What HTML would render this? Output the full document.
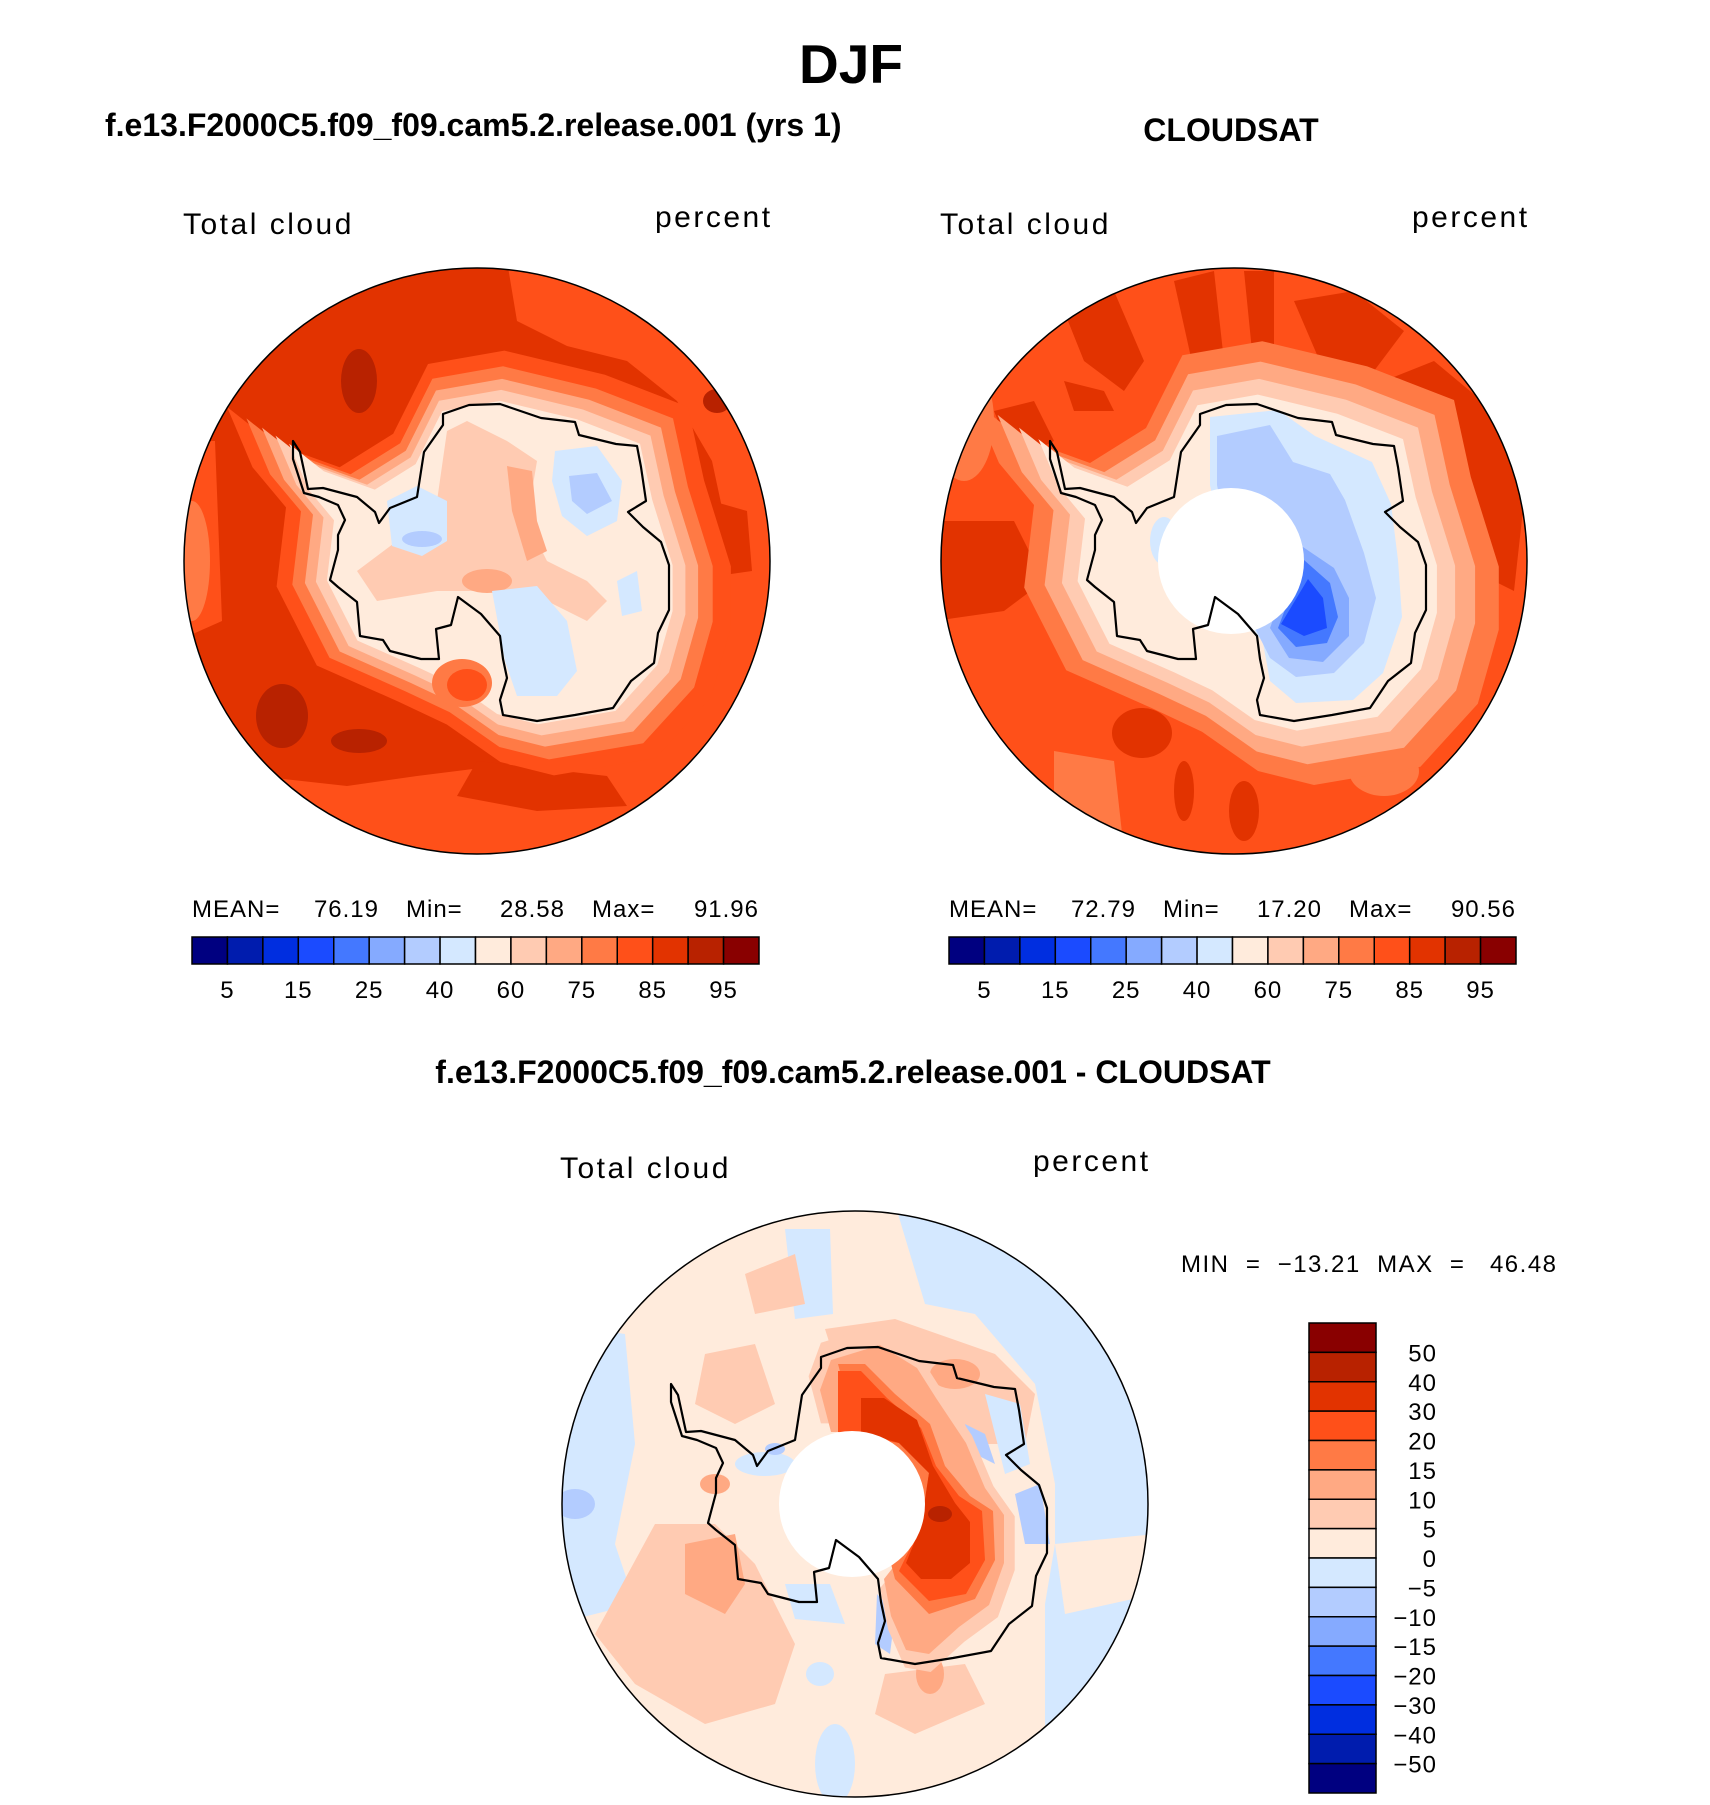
<!DOCTYPE html>
<html><head><meta charset="utf-8">
<style>
html,body{margin:0;padding:0;background:#fff;}
svg{display:block;}
text{font-family:"Liberation Sans",sans-serif;fill:#000;}
.t{font-weight:bold;}
.lab{font-size:30px;letter-spacing:2.5px;}
.sm{font-size:24px;letter-spacing:1px;}
</style></head>
<body>
<svg id="fig" width="1710" height="1805" viewBox="0 0 1710 1805" xmlns="http://www.w3.org/2000/svg">
<text class="t" x="851" y="83" font-size="55" text-anchor="middle">DJF</text>
<text class="t" x="105" y="136" font-size="32">f.e13.F2000C5.f09_f09.cam5.2.release.001 (yrs 1)</text>
<text class="t" x="1231" y="141" font-size="32" text-anchor="middle">CLOUDSAT</text>
<text class="t" x="853" y="1083" font-size="32" text-anchor="middle">f.e13.F2000C5.f09_f09.cam5.2.release.001 - CLOUDSAT</text>

<text class="lab" x="183" y="234">Total cloud</text>
<text class="lab" x="655" y="227">percent</text>
<text class="lab" x="940" y="234">Total cloud</text>
<text class="lab" x="1412" y="227">percent</text>
<text class="lab" x="560" y="1178">Total cloud</text>
<text class="lab" x="1033" y="1171">percent</text>

<g id="maps"></g>
<g id="bars"></g>
</svg>
<script>
// ---------- data ----------
const absLevels = [5,10,15,20,25,30,40,50,60,70,75,80,85,90,95];
const absTickLabels = ["5","15","25","40","60","75","85","95"];
const diffLevels = [-50,-40,-30,-20,-15,-10,-5,0,5,10,15,20,30,40,50];
const diffTickLabels = ["50","40","30","20","15","10","5","0","\u22125","\u221210","\u221215","\u221220","\u221230","\u221240","\u221250"];
const colors = ["#000080","#001cae","#002ee0","#1b4bff","#4478ff","#85aaff","#b3ccff","#d4e8ff","#ffebdc","#ffcbb2","#ffa983","#ff7a45","#ff5019","#e23300","#b82200","#890000"];
const statNames = ["MEAN=","Min=","Max="];
const modelStats = [76.19, 28.58, 91.96];
const obsStats = [72.79, 17.20, 90.56];
const diffStats = [-13.21, 46.48];

const NS="http://www.w3.org/2000/svg";
const svg=document.getElementById('fig');
function mk(tag,attrs,parent){const e=document.createElementNS(NS,tag);for(const k in attrs)e.setAttribute(k,attrs[k]);(parent||svg).appendChild(e);return e;}

// ---------- colorbars ----------
const bars=document.getElementById('bars');
function hBar(x0,x1,y0,y1,stats,prefix){
  const n=colors.length,w=(x1-x0)/n;
  for(let i=0;i<n;i++){
    const r=mk('rect',{x:x0+i*w,y:y0,width:w,height:y1-y0,fill:colors[i],stroke:'#000','stroke-width':1.5},bars);
    
    
  }
  absTickLabels.forEach((lab)=>{
    const idx=absLevels.indexOf(+lab);
    const t=mk('text',{x:x0+(idx+1)*w,y:y1+34,'text-anchor':'middle','class':'sm'},bars);
    t.textContent=lab;
    
    
  });
  const lefts=[0,214,400];
  const rights=[187,373,567];
  statNames.forEach((s,j)=>{
    const a=mk('text',{x:x0+lefts[j],y:y0-20,'class':'sm'},bars);
    a.textContent=s;
    
    
    const v=mk('text',{x:x0+rights[j],y:y0-20,'text-anchor':'end','class':'sm'},bars);
    v.textContent=stats[j].toFixed(2);
    
    
  });
}
hBar(192,759,937,964,modelStats,'model');
hBar(949,1516,937,964,obsStats,'obs');

(function(){
  const x0=1309,x1=1376,y0=1323,y1=1793,n=colors.length,h=(y1-y0)/n;
  for(let i=0;i<n;i++){
    const r=mk('rect',{x:x0,y:y0+i*h,width:x1-x0,height:h,fill:colors[n-1-i],stroke:'#000','stroke-width':1.5},bars);
    
    
  }
  diffTickLabels.forEach((lab,j)=>{
    const t=mk('text',{x:1437,y:y0+(j+1)*h+9,'text-anchor':'end','class':'sm'},bars);
    t.textContent=lab;
    
    
  });
  const t=mk('text',{x:1181,y:1272,'class':'sm'},bars);
  t.textContent='MIN  =  \u2212'+Math.abs(diffStats[0]).toFixed(2)+'  MAX  =   '+diffStats[1].toFixed(2);
  t.setAttribute('xml:space','preserve');
  t.style.whiteSpace='pre';
  t.style.letterSpacing='1.5px';
  
  
})();

// ---------- maps ----------
const CONT=[[-34,-147],[-8,-156],[23,-157],[64,-143],[98,-139],[102,-126],[139,-117],[160,-115],[164,-94],[169,-60],[151,-49],[166,-34],[184,-19],[192,4],[192,49],[181,72],[177,102],[154,120],[136,147],[98,154],[60,160],[26,154],[23,139],[30,117],[26,98],[23,75],[4,53],[-19,36],[-26,64],[-41,68],[-38,98],[-56,98],[-87,90],[-94,79],[-117,75],[-120,41],[-139,26],[-147,19],[-139,-11],[-139,-26],[-132,-41],[-139,-56],[-158,-64],[-173,-68],[-184,-102],[-184,-120],[-177,-109],[-169,-72],[-154,-73],[-120,-64],[-102,-49],[-98,-38],[-87,-53],[-60,-64],[-53,-109],[-34,-136]];
const HULL=[[-34,-147],[23,-157],[98,-139],[160,-115],[172,-60],[192,4],[192,49],[177,102],[136,147],[60,160],[20,150],[-20,122],[-56,105],[-117,78],[-147,19],[-140,-40],[-165,-70],[-184,-115],[-150,-88],[-100,-70],[-60,-95]];
const C=colors;
function pstr(pts,cx,cy,s,ox,oy){s=s||1;ox=ox||10;oy=oy||0;return 'M'+pts.map(p=>(cx+ox+(p[0]-ox)*s).toFixed(1)+','+(cy+oy+(p[1]-oy)*s).toFixed(1)).join('L')+'Z';}
const R=293;
let mapId=0;
function map(cx,cy,base,layers,hole,name){
  mapId++;
  const maps=document.getElementById('maps');
  const g=mk('g',{},maps);
  
  
  const cp=mk('clipPath',{id:'cp'+mapId},g);
  mk('circle',{cx:cx,cy:cy,r:R},cp);
  const inner=mk('g',{'clip-path':'url(#cp'+mapId+')'},g);
  mk('rect',{x:cx-R,y:cy-R,width:2*R,height:2*R,fill:base},inner);
  layers.forEach(L=>{
    if(L.e){mk('ellipse',{cx:cx+L.e[0],cy:cy+L.e[1],rx:L.e[2],ry:L.e[3],fill:L.c},inner);}
    else{mk('path',{d:pstr(L.p,cx,cy,L.s,L.ox,L.oy),fill:L.c,'stroke-linejoin':'round'},inner);}
  });
  if(hole){mk('circle',{cx:cx-3,cy:cy,r:73,fill:'#fff'},inner);}
  const coast=mk('path',{d:pstr(CONT,cx,cy),fill:'none',stroke:'#000','stroke-width':2.2,'stroke-linejoin':'round'},g);
  
  
  const rim=mk('circle',{cx:cx,cy:cy,r:R,fill:'none',stroke:'#000','stroke-width':1.5},g);
  
  
}

// Map 1 : model
map(477,561,C[13],[
  {c:C[12],p:[[30,-300],[40,-240],[90,-215],[150,-200],[200,-160],[235,-100],[250,-30],[240,40],[215,90],[170,150],[100,195],[20,205],[-60,215],[-130,225],[-220,215],[-300,200],[-300,300],[300,300],[300,-300]]},
  {c:C[13],p:[[60,-195],[130,-180],[200,-140],[215,-95],[180,-60],[140,-110],[90,-150]]},
  {c:C[13],p:[[235,-60],[270,-50],[275,10],[240,15]]},
  {c:C[13],p:[[0,200],[130,215],[150,245],[60,250],[-20,235]]},
  {c:C[12],p:[[-300,-120],[-262,-120],[-255,60],[-300,80]]},
  {c:C[11],e:[-285,0,18,60]},
  {c:C[14],e:[-118,-180,18,32]},
  {c:C[14],e:[-195,155,26,32]},
  {c:C[14],e:[-118,180,28,12]},
  {c:C[14],e:[-175,-10,12,20]},
  {c:C[14],e:[240,-160,14,12]},
  {c:C[12],p:HULL,s:1.34},
  {c:C[11],p:HULL,s:1.24},
  {c:C[10],p:HULL,s:1.16},
  {c:C[9],p:HULL,s:1.09},
  {c:C[8],p:HULL,s:1.02},
  {c:C[11],e:[-15,122,30,24]},
  {c:C[12],e:[-10,124,20,16]},
  {c:C[9],p:[[-30,-130],[-10,-140],[30,-120],[60,-100],[50,-40],[70,0],[110,20],[130,40],[110,60],[70,40],[20,30],[-40,30],[-100,40],[-120,10],[-80,-20],[-40,-60]]},
  {c:C[10],p:[[30,-95],[55,-90],[60,-40],[70,-10],[50,0],[35,-50]]},
  {c:C[10],e:[10,20,25,12]},
  {c:C[7],p:[[78,-110],[120,-115],[145,-80],[140,-40],[110,-25],[85,-45],[75,-80]]},
  {c:C[6],p:[[92,-85],[120,-88],[135,-60],[110,-47],[95,-60]]},
  {c:C[7],p:[[-90,-60],[-60,-75],[-30,-60],[-30,-20],[-55,-5],[-85,-15]]},
  {c:C[6],e:[-55,-22,20,8]},
  {c:C[7],p:[[15,30],[60,25],[90,60],[100,110],[80,135],[40,135],[28,100]]},
  {c:C[7],p:[[140,20],[160,10],[165,50],[145,55]]},
],false,'model-map');

// Map 2 : CloudSat
map(1234,561,C[12],[
  {c:C[13],p:[[-170,-250],[-120,-270],[-90,-200],[-110,-170],[-150,-200]]},
  {c:C[13],p:[[-60,-280],[-20,-290],[-10,-200],[-40,-190]]},
  {c:C[13],p:[[10,-290],[40,-290],[40,-200],[20,-190]]},
  {c:C[13],p:[[60,-260],[120,-270],[170,-230],[140,-190],[90,-190]]},
  {c:C[13],p:[[150,-180],[200,-200],[260,-150],[290,-60],[280,30],[240,10],[210,-60],[180,-110]]},
  {c:C[13],p:[[-300,-40],[-220,-40],[-190,20],[-230,50],[-300,60]]},
  {c:C[13],p:[[-240,-150],[-200,-160],[-180,-120],[-220,-100]]},
  {c:C[13],p:[[-170,-180],[-130,-170],[-120,-150],[-160,-150]]},
  {c:C[13],e:[-92,172,30,25]},
  {c:C[13],e:[-50,230,10,30]},
  {c:C[13],e:[10,250,15,30]},
  {c:C[11],p:[[-180,190],[-120,200],[-110,290],[-180,290]]},
  {c:C[11],e:[150,210,35,25]},
  {c:C[11],e:[-270,-140,30,60]},
  {c:C[11],p:HULL,s:1.4},
  {c:C[10],p:HULL,s:1.27},
  {c:C[9],p:HULL,s:1.16},
  {c:C[8],p:HULL,s:1.06},
  {c:C[7],p:[[-24,-144],[44,-151],[81,-125],[138,-99],[157,-57],[164,-1],[168,56],[149,112],[119,139],[62,142],[36,120],[29,82],[-2,37],[-24,-76]]},
  {c:C[6],p:[[-17,-125],[36,-136],[59,-99],[96,-87],[111,-61],[130,-8],[142,37],[130,82],[100,112],[62,116],[36,97],[6,37],[-17,-76]]},
  {c:C[5],p:[[66,-16],[100,7],[115,37],[115,75],[89,101],[55,97],[36,67]]},
  {c:C[4],p:[[70,-1],[96,22],[104,56],[93,82],[62,86],[44,67]]},
  {c:C[3],p:[[74,18],[89,37],[93,67],[70,75],[47,63]]},
  {c:C[7],e:[-70,-20,14,24]},
],true,'obs-map');

// Map 3 : difference
map(855,1504,C[8],[
  {c:C[7],p:[[40,-300],[300,-300],[300,300],[190,300],[190,100],[200,40],[200,-20],[180,-120],[120,-190],[70,-200]]},
  {c:C[8],p:[[200,40],[300,30],[300,90],[210,110]]},
  {c:C[7],p:[[-70,-275],[-25,-275],[-22,-190],[-60,-185]]},
  {c:C[7],p:[[-300,-180],[-230,-170],[-220,-60],[-240,40],[-220,100],[-300,120]]},
  {c:C[6],e:[-280,0,20,15]},
  {c:C[7],e:[-20,260,20,40]},
  {c:C[7],e:[-35,170,14,12]},
  {c:C[9],p:[[-200,20],[-140,20],[-100,60],[-60,140],[-80,200],[-150,220],[-220,180],[-260,130]]},
  {c:C[9],p:[[-150,-150],[-100,-160],[-80,-100],[-120,-80],[-160,-100]]},
  {c:C[9],p:[[-110,-230],[-60,-250],[-50,-200],[-100,-190]]},
  {c:C[10],p:[[-170,40],[-120,30],[-110,80],[-130,110],[-170,90]]},
  {c:C[10],e:[-140,-20,15,10]},
  {c:C[9],p:[[30,170],[110,160],[130,200],[60,230],[20,210]]},
  {c:C[10],e:[75,170,14,20]},
  {c:C[9],p:[[-30,-175],[40,-185],[140,-150],[180,-110],[170,-60],[100,-60],[0,-80]]},
  {c:C[10],e:[100,-130,25,15]},
  {c:C[7],e:[-90,-40,30,12]},
  {c:C[6],e:[-80,-55,10,6]},
  {c:C[7],p:[[-70,80],[-25,80],[-10,120],[-60,115]]},
  {c:C[6],p:[[22,90],[40,110],[35,150],[20,140]]},
  {c:C[6],p:[[110,-80],[130,-70],[140,-40],[120,-50]]},
  {c:C[6],p:[[160,-10],[185,-20],[195,40],[170,40]]},
  {c:C[7],p:[[130,-110],[165,-100],[175,-40],[150,-30]]},
  {c:C[9],p:[[-24,-144],[25,-159],[62,-136],[81,-106],[111,-61],[130,-16],[149,11],[149,59],[134,101],[104,123],[74,150],[51,146],[36,112],[29,75],[44,56],[66,18],[74,-31],[44,-61],[-2,-72],[-24,-72],[-35,-114]],s:1.12,ox:60,oy:0},
  {c:C[10],p:[[-24,-144],[25,-159],[62,-136],[81,-106],[111,-61],[130,-16],[149,11],[149,59],[134,101],[104,123],[74,150],[51,146],[36,112],[29,75],[44,56],[66,18],[74,-31],[44,-61],[-2,-72],[-24,-72],[-35,-114]]},
  {c:C[11],p:[[-17,-140],[10,-140],[40,-110],[75,-80],[90,-38],[115,-8],[138,7],[140,56],[120,95],[74,110],[40,75]],s:1,ox:60},
  {c:C[12],p:[[-17,-133],[6,-133],[32,-106],[66,-76],[81,-38],[104,-8],[127,7],[130,56],[111,90],[74,97],[44,67],[66,22],[74,-31],[44,-61],[-17,-72]]},
  {c:C[13],p:[[6,-106],[29,-106],[62,-84],[78,-38],[100,-1],[115,18],[115,59],[96,75],[66,75],[51,59],[66,22],[74,-31],[44,-61],[6,-72]]},
  {c:C[14],e:[85,10,12,8]},
],true,'diff-map');
</script>
</body></html>
